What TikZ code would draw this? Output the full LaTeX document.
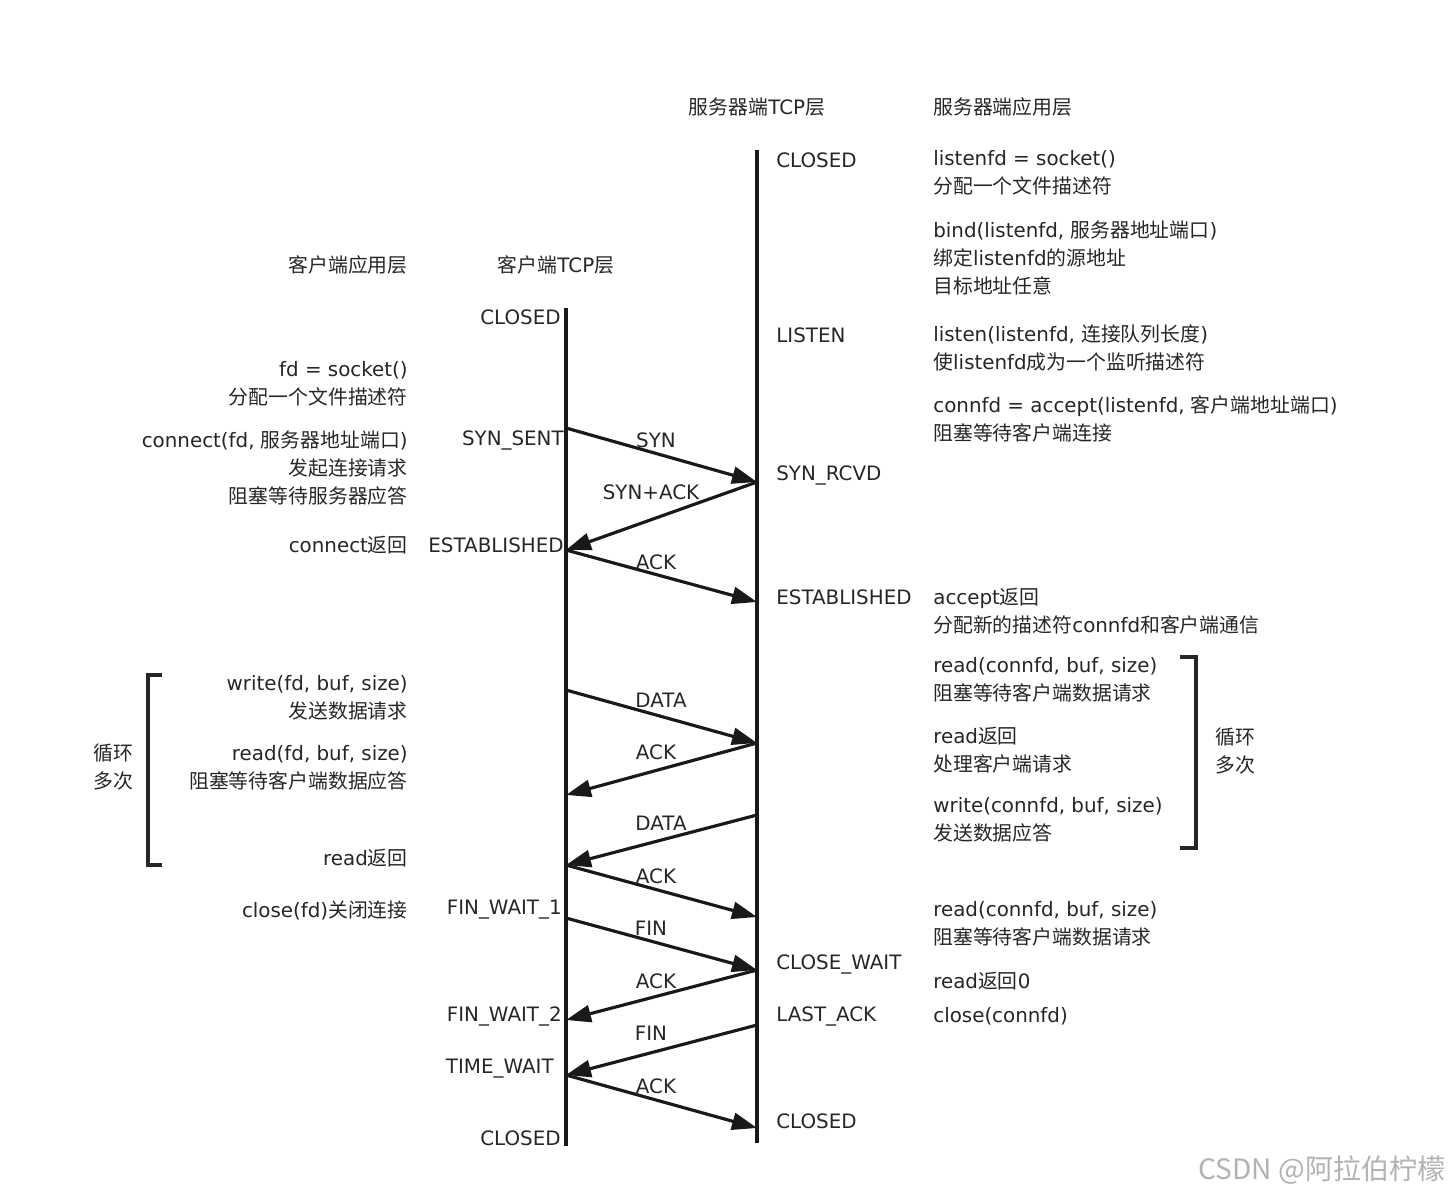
\documentclass[tikz,border=0pt]{standalone}
\usepackage{fontspec}
\setmainfont{DejaVu Sans}
\newfontfamily\zhfont{Noto Sans CJK SC}
\newcommand{\zh}[1]{{\zhfont #1}}
\usetikzlibrary{arrows.meta}

\tikzset{
  lifeline/.style={line width=2pt, black!90},
  msg/.style={line width=1.8pt, black!90, -{Triangle[length=5mm,width=3.4mm]}},
  bracket/.style={line width=1.8pt, black!85},
  txt/.style={inner sep=0pt, text=black!85, font=\fontsize{11.3}{15.9}\selectfont},
  apptxt/.style={txt, align=left, anchor=west},
  clitxt/.style={txt, align=right, anchor=east}
}

\begin{document}
\begin{tikzpicture}[x=0.02cm, y=-0.02cm]
\useasboundingbox (0,0) rectangle (1450,1197);

% lifelines
\coordinate (cTop) at (566,308); \coordinate (cBot) at (566,1146);
\coordinate (sTop) at (757,150); \coordinate (sBot) at (757,1143);
\draw[lifeline] (cTop) -- (cBot);
\draw[lifeline] (sTop) -- (sBot);

% headers
\node[txt] (hServTcp) at (757,107) {\zh{服务器端}TCP\zh{层}};
\node[txt, anchor=west] (hServApp) at (933,107) {\zh{服务器端应用层}};
\node[txt, anchor=east] (hCliApp) at (408,265) {\zh{客户端应用层}};
\node[txt] (hCliTcp) at (556,265) {\zh{客户端}TCP\zh{层}};

% points on the lifelines
\coordinate (c1) at (566,428);  \coordinate (s1) at (757,482);
\coordinate (c2) at (566,550);  \coordinate (s2) at (757,602);
\coordinate (c3) at (566,690);  \coordinate (s3) at (757,743);
\coordinate (c4) at (566,795);  \coordinate (s4) at (757,815);
\coordinate (c5) at (566,865);  \coordinate (s5) at (757,917);
\coordinate (c6) at (566,918);  \coordinate (s6) at (757,970);
\coordinate (c7) at (566,1020); \coordinate (s7) at (757,1025);
\coordinate (c8) at (566,1075); \coordinate (s8) at (757,1128);

% segments
\foreach \from/\to/\name/\lx/\ly [count=\i] in {
  c1/s1/SYN/656/440, s1/c2/SYN+ACK/651/492, c2/s2/ACK/656/562,
  c3/s3/DATA/661/700, s3/c4/ACK/656/752, s4/c5/DATA/661/823,
  c5/s5/ACK/656/876, c6/s6/FIN/651/928, s6/c7/ACK/656/981,
  s7/c8/FIN/651/1033, c8/s8/ACK/656/1086}{
  \draw[msg] (\from) -- (\to);
  \node[txt] (seg\i) at (\lx,\ly) {\name};
}

% client TCP states
\node[txt, anchor=east] (cClosed) at (561,317) {CLOSED};
\node[txt, anchor=east] (cSynSent) at (564,440) {SYN\_SENT};
\node[txt, anchor=east] (cEstab) at (564,545) {ESTABLISHED};
\node[txt, anchor=east] (cFin1) at (562,910) {FIN\_WAIT\_1};
\node[txt, anchor=east] (cFin2) at (562,1016) {FIN\_WAIT\_2};
\node[txt, anchor=east] (cTimeW) at (554,1069) {TIME\_WAIT};
\node[txt, anchor=east] (cClosed2) at (561,1138) {CLOSED};

% server TCP states
\node[txt, anchor=west] (sClosed) at (776,160) {CLOSED};
\node[txt, anchor=west] (sListen) at (776,335) {LISTEN};
\node[txt, anchor=west] (sSynRcvd) at (776,475) {SYN\_RCVD};
\node[txt, anchor=west] (sEstab) at (776,597) {ESTABLISHED};
\node[txt, anchor=west] (sCloseW) at (776,964) {CLOSE\_WAIT};
\node[txt, anchor=west] (sLastAck) at (776,1016) {LAST\_ACK};
\node[txt, anchor=west] (sClosed2) at (776,1121) {CLOSED};

% client application calls
\node[clitxt] (aSocket) at (408,384) {fd = socket()\\\zh{分配一个文件描述符}};
\node[clitxt] (aConnect) at (408,468) {connect(fd, \zh{服务器地址端口})\\\zh{发起连接请求}\\\zh{阻塞等待服务器应答}};
\node[clitxt] (aConnRet) at (408,545) {connect\zh{返回}};
\node[clitxt] (aWrite) at (408,698) {write(fd, buf, size)\\\zh{发送数据请求}};
\node[clitxt] (aRead) at (408,768) {read(fd, buf, size)\\\zh{阻塞等待客户端数据应答}};
\node[clitxt] (aReadRet) at (408,858) {read\zh{返回}};
\node[clitxt] (aClose) at (408,910) {close(fd)\zh{关闭连接}};

% server application calls
\node[apptxt] (bSocket) at (933,173) {listenfd = socket()\\\zh{分配一个文件描述符}};
\node[apptxt] (bBind) at (933,258) {bind(listenfd, \zh{服务器地址端口})\\\zh{绑定}listenfd\zh{的源地址}\\\zh{目标地址任意}};
\node[apptxt] (bListen) at (933,348) {listen(listenfd, \zh{连接队列长度})\\\zh{使}listenfd\zh{成为一个监听描述符}};
\node[apptxt] (bAccept) at (933,419) {connfd = accept(listenfd, \zh{客户端地址端口})\\\zh{阻塞等待客户端连接}};
\node[apptxt] (bAccRet) at (933,611) {accept\zh{返回}\\\zh{分配新的描述符}connfd\zh{和客户端通信}};
\node[apptxt] (bRead) at (933,680) {read(connfd, buf, size)\\\zh{阻塞等待客户端数据请求}};
\node[apptxt] (bReadRet) at (933,750) {read\zh{返回}\\\zh{处理客户端请求}};
\node[apptxt] (bWrite) at (933,820) {write(connfd, buf, size)\\\zh{发送数据应答}};
\node[apptxt] (bRead2) at (933,924) {read(connfd, buf, size)\\\zh{阻塞等待客户端数据请求}};
\node[apptxt] (bRead0) at (933,981) {read\zh{返回}0};
\node[apptxt] (bClose) at (933,1016) {close(connfd)};

% loop brackets
\draw[bracket] (162,675) -- (148,675) -- (148,865) -- (162,865);
\node[txt, align=center] (loopL) at (113,767) {\zh{循环}\\\zh{多次}};
\draw[bracket] (1180,657) -- (1196,657) -- (1196,848) -- (1180,848);
\node[txt, align=center] (loopR) at (1235,751) {\zh{循环}\\\zh{多次}};

% watermark
\node[inner sep=0pt, anchor=east, text=black!30, font=\zhfont\fontsize{16}{18}\selectfont] (mark) at (1446,1170) {CSDN @阿拉伯柠檬};
\end{tikzpicture}
\end{document}
